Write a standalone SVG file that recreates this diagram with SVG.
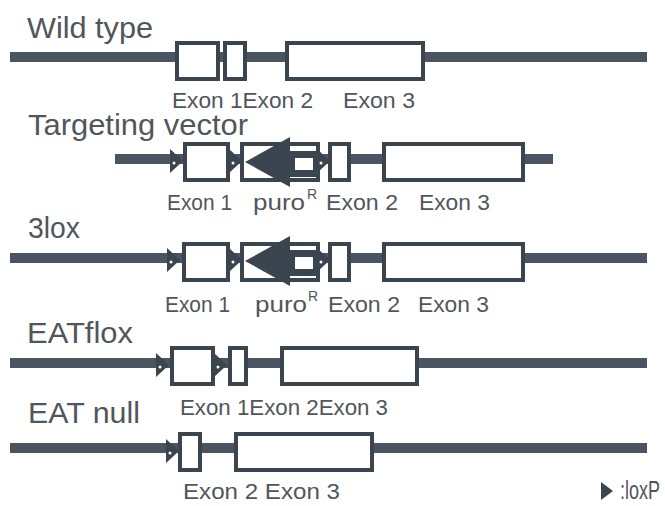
<svg xmlns="http://www.w3.org/2000/svg" width="665" height="506" viewBox="0 0 665 506">
<defs>
<style>
.bg{fill:#ffffff}
.dna{stroke:#4a5561;stroke-width:10;fill:none}
.box{fill:#ffffff;stroke:#3b4550;stroke-width:4}
.lox{fill:#3b4550}
.dot{fill:#ffffff}
.dark{fill:#3b4550}
.title{font-family:"Liberation Sans","DejaVu Sans",sans-serif;font-size:29px;fill:#50565c}
.lbl{font-family:"Liberation Sans","DejaVu Sans",sans-serif;font-size:22px;fill:#50565c}
.sup{font-family:"Liberation Sans","DejaVu Sans",sans-serif;font-size:14px;fill:#50565c}
.leg{font-family:"Liberation Sans","DejaVu Sans",sans-serif;font-size:25px;fill:#50565c}
</style>
<g id="loxP">
<polygon points="0,-12 13,0 0,12"/>
</g>
</defs>
<rect class="bg" x="0" y="0" width="665" height="506"/>

<g id="connectors">
<line class="dna" x1="10" y1="57" x2="647" y2="57"/>
<line class="dna" x1="115" y1="159" x2="553" y2="159"/>
<line class="dna" x1="10" y1="258" x2="647" y2="258"/>
<line class="dna" x1="10" y1="363" x2="647" y2="363"/>
<line class="dna" x1="10" y1="448" x2="647" y2="448"/>
</g>

<g id="wild-type">
<text class="title" x="27" y="38" textLength="126" lengthAdjust="spacingAndGlyphs">Wild type</text>
<rect class="box" x="177" y="43" width="41" height="36"/>
<rect class="box" x="225" y="43" width="20" height="36"/>
<rect class="box" x="287" y="43" width="136" height="36"/>
<text class="lbl" x="172" y="108" textLength="141" lengthAdjust="spacingAndGlyphs">Exon 1Exon 2</text>
<text class="lbl" x="343" y="108" textLength="72" lengthAdjust="spacingAndGlyphs">Exon 3</text>
</g>

<g id="targeting-vector">
<text class="title" x="28" y="135" textLength="220" lengthAdjust="spacingAndGlyphs">Targeting vector</text>
<use href="#loxP" class="lox" x="170" y="161"/>
<circle class="dot" cx="174" cy="163" r="1.5"/>
<rect class="box" x="185" y="144" width="43" height="36"/>
<use href="#loxP" class="lox" x="229" y="161"/>
<circle class="dot" cx="233" cy="163" r="1.5"/>
<rect class="box" x="242" y="144" width="76" height="36"/>
<polygon class="dark" points="245,162 290,137 290,187"/>
<rect class="dark" x="288" y="151" width="30" height="26"/>
<rect class="dot" x="295" y="158" width="18" height="12"/>
<use href="#loxP" class="lox" x="317" y="161"/>
<circle class="dot" cx="321" cy="163" r="1.5"/>
<rect class="box" x="330" y="144" width="19" height="36"/>
<rect class="box" x="384" y="144" width="139" height="36"/>
<text class="lbl" x="167" y="210" textLength="65" lengthAdjust="spacingAndGlyphs">Exon 1</text>
<text class="lbl" x="253" y="210" textLength="52" lengthAdjust="spacingAndGlyphs">puro</text>
<text class="sup" x="307" y="199">R</text>
<text class="lbl" x="326" y="210" textLength="72" lengthAdjust="spacingAndGlyphs">Exon 2</text>
<text class="lbl" x="419" y="210" textLength="71" lengthAdjust="spacingAndGlyphs">Exon 3</text>
</g>

<g id="three-lox">
<text class="title" x="28" y="238" textLength="52" lengthAdjust="spacingAndGlyphs">3lox</text>
<use href="#loxP" class="lox" x="167" y="260"/>
<circle class="dot" cx="171" cy="262" r="1.5"/>
<rect class="box" x="184" y="244" width="44" height="36"/>
<use href="#loxP" class="lox" x="229" y="260"/>
<circle class="dot" cx="233" cy="262" r="1.5"/>
<rect class="box" x="242" y="244" width="76" height="36"/>
<polygon class="dark" points="245,261 290,236 290,286"/>
<rect class="dark" x="288" y="250" width="30" height="26"/>
<rect class="dot" x="295" y="257" width="18" height="12"/>
<use href="#loxP" class="lox" x="317" y="260"/>
<circle class="dot" cx="321" cy="262" r="1.5"/>
<rect class="box" x="330" y="244" width="19" height="36"/>
<rect class="box" x="384" y="244" width="139" height="36"/>
<text class="lbl" x="165" y="312" textLength="65" lengthAdjust="spacingAndGlyphs">Exon 1</text>
<text class="lbl" x="255" y="312" textLength="52" lengthAdjust="spacingAndGlyphs">puro</text>
<text class="sup" x="308" y="301">R</text>
<text class="lbl" x="328" y="312" textLength="72" lengthAdjust="spacingAndGlyphs">Exon 2</text>
<text class="lbl" x="418" y="312" textLength="71" lengthAdjust="spacingAndGlyphs">Exon 3</text>
</g>

<g id="eat-flox">
<text class="title" x="27" y="343" textLength="106" lengthAdjust="spacingAndGlyphs">EATflox</text>
<use href="#loxP" class="lox" x="156" y="365"/>
<circle class="dot" cx="160" cy="367" r="1.5"/>
<rect class="box" x="172" y="348" width="41" height="36"/>
<use href="#loxP" class="lox" x="214" y="365"/>
<circle class="dot" cx="218" cy="367" r="1.5"/>
<rect class="box" x="230" y="348" width="16" height="36"/>
<rect class="box" x="282" y="348" width="135" height="36"/>
<text class="lbl" x="180" y="415" textLength="208" lengthAdjust="spacingAndGlyphs">Exon 1Exon 2Exon 3</text>
</g>

<g id="eat-null">
<text class="title" x="28" y="423" textLength="112" lengthAdjust="spacingAndGlyphs">EAT null</text>
<use href="#loxP" class="lox" x="166" y="451"/>
<circle class="dot" cx="170" cy="453" r="1.5"/>
<rect class="box" x="180" y="434" width="20" height="36"/>
<rect class="box" x="236" y="434" width="136" height="36"/>
<text class="lbl" x="183" y="499" textLength="157" lengthAdjust="spacingAndGlyphs">Exon 2  Exon 3</text>
</g>

<g id="legend">
<polygon class="lox" points="601,482 613,491 601,500"/>
<text class="leg" transform="translate(620,499) scale(0.72,1)" x="0" y="0">:loxP</text>
</g>
</svg>
